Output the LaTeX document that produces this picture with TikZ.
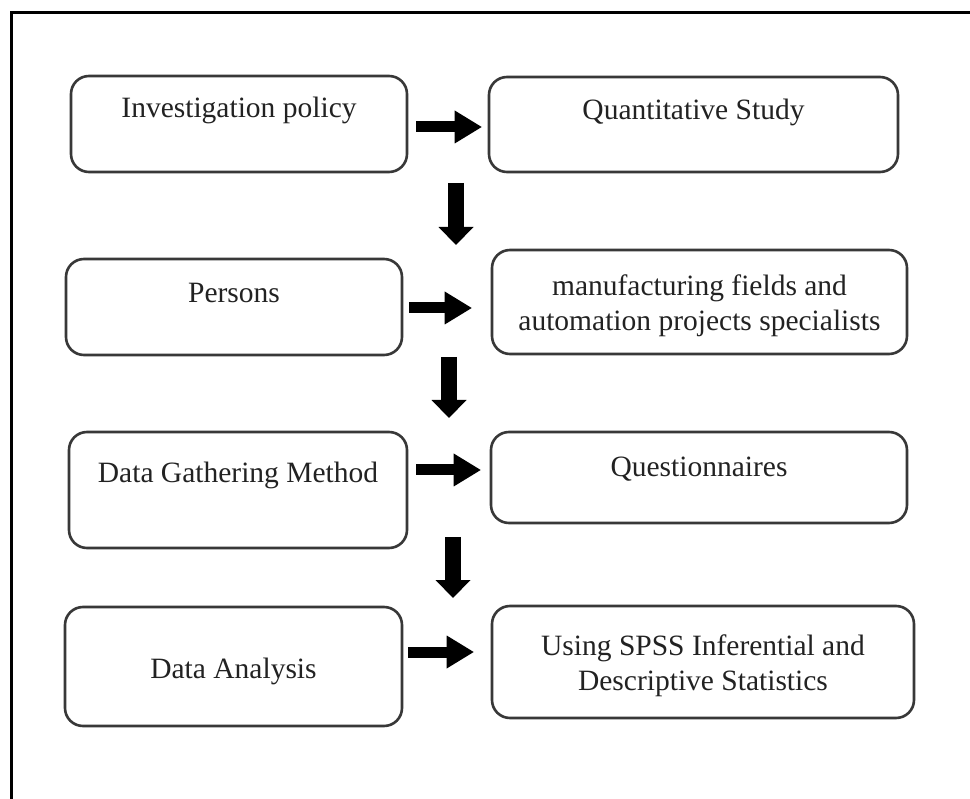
\documentclass[tikz,border=0pt]{standalone}
\usepackage{fontspec}
\setmainfont{Liberation Serif}
\usetikzlibrary{arrows.meta}
\definecolor{boxline}{HTML}{383838}
\definecolor{txt}{HTML}{222222}
\tikzset{
  box/.style={draw=boxline, line width=2.6pt, rounded corners=18pt, inner sep=0pt, fill=white},
  lbl/.style={text=txt, inner sep=0pt, anchor=base, font=\fontsize{29.5}{35}\selectfont},
  lbltwo/.style={text=txt, inner sep=0pt, anchor=center, align=center, font=\fontsize{29.5}{35}\selectfont},
  rarrow/.style={line width=11pt, -{Triangle[width=33pt,length=27pt,line width=0pt]}},
  darrow/.style={line width=16pt, -{Triangle[width=35pt,length=18pt,line width=0pt]}},
}
\begin{document}
\begin{tikzpicture}[x=1pt,y=-1pt]
\useasboundingbox (0,0) rectangle (970,799);
\fill[white] (0,0) rectangle (970,799);
% outer frame (only left and top edges are visible)
\begin{scope}
\clip (0,0) rectangle (970,799);
\draw[line width=3pt, black] (11,820) -- (11,13) -- (990,13);
\end{scope}
% boxes
\node[box, minimum width=336pt, minimum height=96pt]  (b1) at (239,124) {};
\node[box, minimum width=409pt, minimum height=95pt]  (b2) at (693.5,124.5) {};
\node[box, minimum width=336pt, minimum height=96pt]  (b3) at (234,307) {};
\node[box, minimum width=415pt, minimum height=104pt] (b4) at (699.5,302) {};
\node[box, minimum width=338pt, minimum height=116pt] (b5) at (238,490) {};
\node[box, minimum width=416pt, minimum height=91pt]  (b6) at (699,477.5) {};
\node[box, minimum width=337pt, minimum height=119pt] (b7) at (233.5,666.5) {};
\node[box, minimum width=422pt, minimum height=112pt] (b8) at (703,662) {};
% labels
\node[lbl] (t1) at (239,118) {Investigation policy};
\node[lbl] (t2) at (693.5,120) {Quantitative Study};
\node[lbl] (t3) at (234,303) {Persons};
\node[lbltwo] (t4) at (699.5,305.7) {manufacturing fields and\\automation projects specialists};
\node[lbl] (t5) at (238,483) {Data Gathering Method};
\node[lbl] (t6) at (699,477) {Questionnaires};
\node[lbl] (t7) at (233.5,678) {Data Analysis};
\node[lbltwo] (t8) at (703,665.7) {Using SPSS Inferential and\\Descriptive Statistics};
% right arrows
\draw[rarrow] ([xshift=8pt,yshift=-3pt]b1.east) -- ([xshift=-6pt,yshift=-2.5pt]b2.west);
\draw[rarrow] ([xshift=6pt,yshift=-1pt]b3.east) -- ([xshift=-19pt,yshift=-6pt]b4.west);
\draw[rarrow] ([xshift=8pt,yshift=20pt]b5.east) -- ([xshift=-9pt,yshift=7.5pt]b6.west);
\draw[rarrow] ([xshift=5pt,yshift=14.5pt]b7.east) -- ([xshift=-17pt,yshift=10pt]b8.west);
% down arrows
\coordinate (d1s) at (456,183);
\coordinate (d1e) at (456,245);
\coordinate (d2s) at (449,357);
\coordinate (d2e) at (449,418);
\coordinate (d3s) at (453,537);
\coordinate (d3e) at (453,598);
\draw[darrow] (d1s) -- (d1e);
\draw[darrow] (d2s) -- (d2e);
\draw[darrow] (d3s) -- (d3e);
\end{tikzpicture}
\end{document}
